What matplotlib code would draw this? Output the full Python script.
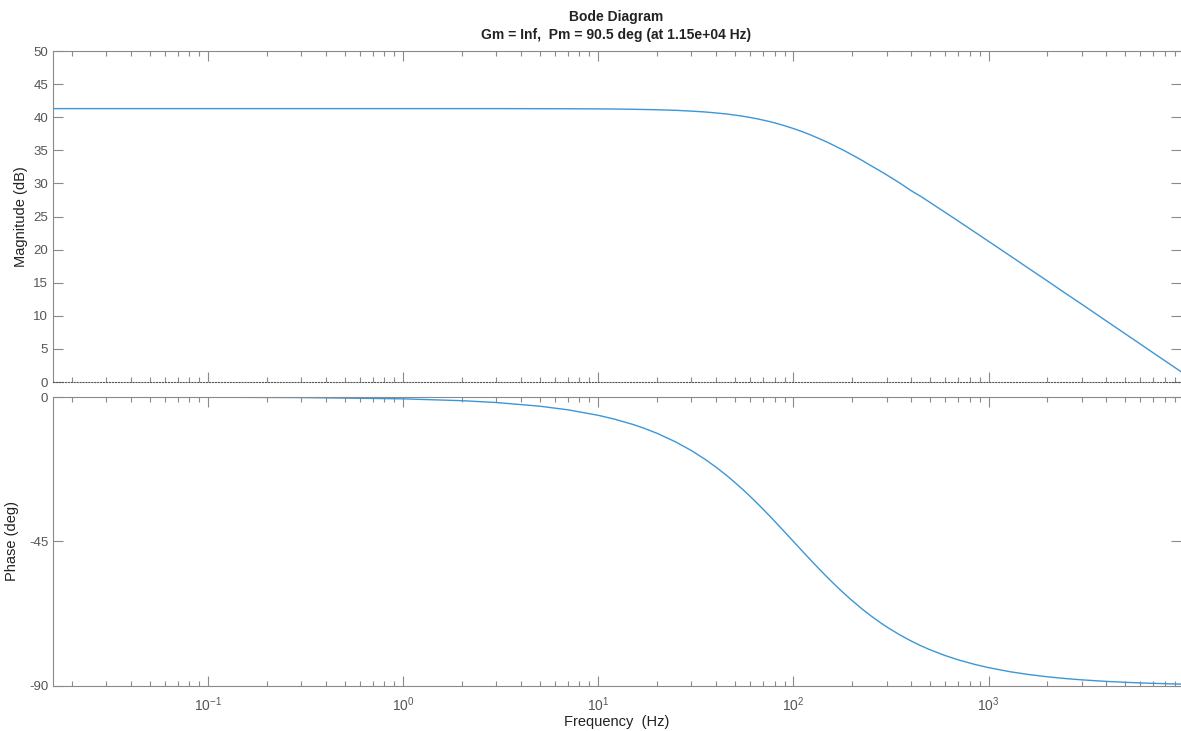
import matplotlib.pyplot as plt
from matplotlib.ticker import LogLocator, NullFormatter, FixedLocator

plt.rcParams['font.family'] = ['Liberation Sans', 'DejaVu Sans']
plt.rcParams['axes.unicode_minus'] = False

# values (frequency in Hz)
freq = [0.016, 0.03, 0.1, 0.3, 1, 2, 3, 5, 7, 10, 12, 15, 17, 20, 25, 30, 35, 40, 45,
        50, 55, 60, 65, 70, 75, 80, 90, 100, 110, 120, 135, 150, 165, 180, 200, 225,
        250, 275, 300, 350, 400, 450, 500, 600, 700, 850, 1000, 1300, 1600, 2000,
        2500, 3000, 4000, 5000, 6000, 7000, 8500, 9700]
mag_db = [41.3, 41.3, 41.3, 41.3, 41.3, 41.3, 41.3, 41.29, 41.28, 41.26, 41.24, 41.2,
          41.17, 41.13, 41.04, 40.92, 40.8, 40.65, 40.5, 40.33, 40.15, 39.96, 39.77,
          39.56, 39.36, 39.15, 38.72, 38.29, 37.86, 37.43, 36.79, 36.19, 35.59, 35.03,
          34.31, 33.47, 32.67, 31.97, 31.3, 30.08, 28.93, 28.03, 27.15, 25.62, 24.31,
          22.65, 21.26, 19.0, 17.2, 15.28, 13.33, 11.77, 9.26, 7.32, 5.74, 4.39, 2.71,
          1.56]
phase_deg = [-0.01, -0.02, -0.06, -0.17, -0.57, -1.15, -1.72, -2.86, -4.0, -5.71,
             -6.84, -8.53, -9.65, -11.31, -14.04, -16.7, -19.29, -21.8, -24.23, -26.57,
             -28.81, -30.96, -33.02, -34.99, -36.87, -38.66, -41.99, -45.0, -47.73,
             -50.19, -53.47, -56.31, -58.78, -60.95, -63.43, -66.04, -68.2, -70.02,
             -71.57, -74.05, -75.96, -77.47, -78.69, -80.54, -81.87, -83.29, -84.29,
             -85.6, -86.42, -87.14, -87.71, -88.09, -88.57, -88.85, -89.05, -89.18,
             -89.33, -89.41]

mag_ticks = [0, 5, 10, 15, 20, 25, 30, 35, 40, 45, 50]
phase_ticks = [-90, -45, 0]

line_col = '#3d96d6'
axis_col = '#8a8a8a'
text_col = '#555555'

fig = plt.figure(figsize=(11.81, 7.31), dpi=100)
ax1 = fig.add_axes([0.0449, 0.4774, 0.9551, 0.4528])
ax2 = fig.add_axes([0.0449, 0.0616, 0.9551, 0.3953])

for ax in (ax1, ax2):
    ax.set_xscale('log')
    ax.set_xlim(0.016, 9700)
    ax.xaxis.set_major_locator(LogLocator(base=10, numticks=20))
    ax.xaxis.set_minor_locator(LogLocator(base=10, subs=range(2, 10), numticks=50))
    ax.xaxis.set_minor_formatter(NullFormatter())
    ax.tick_params(which='major', direction='in', length=7, width=0.8,
                   top=True, right=True, color=axis_col, labelcolor=text_col)
    ax.tick_params(which='minor', direction='in', length=3.5, width=0.8,
                   top=True, right=True, color=axis_col)
    ax.tick_params(axis='y', labelsize=9.5)
    ax.tick_params(axis='x', labelsize=10, pad=7)
    for s in ax.spines.values():
        s.set_color(axis_col)
        s.set_linewidth(0.8)
    ax.spines['right'].set_visible(False)

ax1.plot(freq, mag_db, color=line_col, lw=1)
ax1.set_ylim(0, 50)
ax1.yaxis.set_major_locator(FixedLocator(mag_ticks))
ax1.tick_params(axis='x', labelbottom=False)
ax1.spines['bottom'].set_linestyle(':')
ax1.spines['bottom'].set_color('#555555')
ax1.set_ylabel('Magnitude (dB)', fontsize=10.5, color='#222222')
ax1.yaxis.set_label_coords(-0.022, 0.5)

ax2.plot(freq, phase_deg, color=line_col, lw=1)
ax2.set_ylim(-90, 0)
ax2.yaxis.set_major_locator(FixedLocator(phase_ticks))
ax2.set_ylabel('Phase (deg)', fontsize=10.5, color='#222222')
ax2.yaxis.set_label_coords(-0.030, 0.5)
ax2.set_xlabel('Frequency  (Hz)', fontsize=10.5, color='#222222')
ax2.xaxis.set_label_coords(0.5, -0.102)

fig.text(0.522, 0.977, 'Bode Diagram', ha='center', va='center',
         fontsize=10, fontweight='bold', color='#222222')
fig.text(0.522, 0.952, 'Gm = Inf,  Pm = 90.5 deg (at 1.15e+04 Hz)', ha='center',
         va='center', fontsize=10, fontweight='bold', color='#222222')

fig.savefig('out.png', dpi=100)
